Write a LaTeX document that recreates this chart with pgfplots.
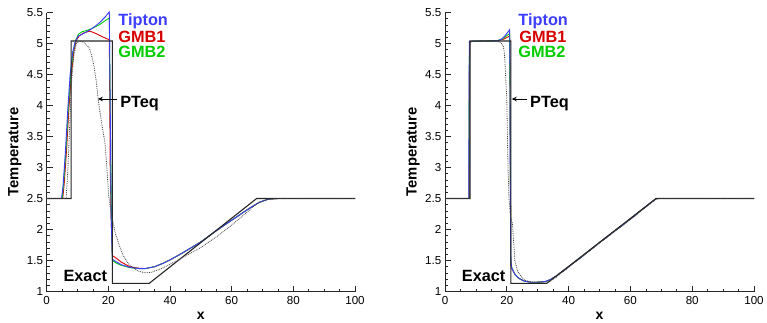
\documentclass[border=0pt]{standalone}
\usepackage{fontspec}
\setmainfont{Liberation Sans}
\usepackage{pgfplots}
\pgfplotsset{compat=1.18}
\usetikzlibrary{arrows.meta}
\definecolor{tipblue}{RGB}{60,60,255}
\definecolor{gmbred}{RGB}{215,0,0}
\definecolor{gmbgreen}{RGB}{0,205,0}
\pgfplotsset{
  myaxis/.style={
    scale only axis, height=279pt,
    xmin=0, xmax=100, ymin=1, ymax=5.5,
    axis lines=left, axis line style={-, black!85, line width=0.8pt},
    tick align=inside,
    xtick={0,20,...,100}, minor x tick num=3,
    ytick={1,1.5,...,5.5}, minor y tick num=4,
    major tick length=6pt, minor tick length=3pt,
    every tick/.style={black!85, line width=0.7pt},
    /pgf/number format/assume math mode=true,
    tick label style={font=\fontsize{11.6}{13}\selectfont},
    xticklabel style={inner sep=0pt, anchor=north, yshift=-4.5pt},
    yticklabel style={inner sep=0pt, anchor=east, xshift=-3.5pt},
    xlabel={\bfseries x},
    ylabel={\bfseries Temperature},
    xlabel style={font=\fontsize{14}{16}\selectfont, inner sep=0pt, at={([yshift=-28pt]axis description cs:0.5,0)}, anchor=base},
    ylabel style={font=\fontsize{14.8}{16}\selectfont, inner sep=0pt, at={([xshift=-28.4pt]axis description cs:0,0.5)}, anchor=base, rotate=0},
    clip=false,
  },
  ex/.style={black!85, line width=1.1pt, no marks},
  pt/.style={black!75, line width=0.8pt, densely dotted, no marks},
  cb/.style={tipblue, line width=0.9pt, no marks},
  cr/.style={gmbred, line width=0.9pt, no marks},
  cg/.style={gmbgreen, line width=0.9pt, no marks},
}
\newcommand{\lab}{\fontsize{16.3}{17}\selectfont\bfseries}
\begin{document}
\begin{tikzpicture}
\useasboundingbox (0pt,0pt) rectangle (767pt,322pt);
% ---------------- left ----------------
\begin{axis}[myaxis, at={(46.7pt,30.5pt)}, anchor=south west, width=308.3pt]
\addplot[cr] coordinates {(0,2.5)(5.2,2.5)(5.7,2.75)(6.4,3.25)(7.2,3.95)(8.0,4.5)(8.8,4.88)(9.6,5.05)(10.5,5.12)(12,5.17)(14,5.2)(16,5.16)(18,5.11)(20.3,5.06)(20.4,4.5)(20.6,3.0)(20.9,2.2)(21.3,1.58)(22.5,1.54)(24.3,1.47)(27,1.40)(30,1.375)(32,1.37)(35,1.40)(37.5,1.45)(40,1.51)(44,1.62)(50,1.80)(55,1.98)(60,2.15)(63,2.25)(66,2.35)(69,2.44)(72,2.49)(75,2.5)(100,2.5)};
\addplot[cg] coordinates {(0,2.5)(5.0,2.5)(5.5,2.75)(6.2,3.25)(7.0,3.95)(7.8,4.5)(8.6,4.88)(9.4,5.05)(10.3,5.15)(11.5,5.19)(13,5.21)(15,5.25)(17,5.3)(19,5.37)(20.3,5.41)(20.5,4.5)(20.8,3.0)(21.0,2.2)(21.3,1.50)(22.5,1.46)(24.3,1.42)(27,1.385)(30,1.37)(32,1.37)(35,1.40)(37.5,1.45)(40,1.51)(44,1.62)(50,1.80)(55,1.98)(60,2.15)(63,2.25)(66,2.35)(69,2.44)(72,2.49)(75,2.5)(100,2.5)};
\addplot[cb] coordinates {(0,2.5)(4.8,2.5)(5.3,2.7)(6.0,3.2)(6.8,3.9)(7.6,4.5)(8.4,4.85)(9.2,5.02)(10.2,5.12)(11.5,5.15)(13,5.19)(15,5.25)(17,5.33)(19,5.43)(20.3,5.51)(20.4,5.0)(20.7,3.5)(20.9,2.2)(21.3,1.52)(22.5,1.48)(24.3,1.43)(27,1.39)(30,1.37)(32,1.37)(35,1.40)(37.5,1.45)(40,1.51)(44,1.62)(50,1.80)(55,1.98)(60,2.15)(63,2.25)(66,2.35)(69,2.44)(72,2.49)(75,2.5)(100,2.5)};
\addplot[ex] coordinates {(0,2.5)(7.9,2.5)(7.9,5.04)(21.3,5.04)(21.3,1.13)(33.2,1.13)(68.1,2.5)(100,2.5)};
\addplot[pt] coordinates {(0,2.5)(6.3,2.5)(6.8,2.9)(7.4,3.6)(8.1,4.4)(8.8,4.8)(9.6,5.0)(10.5,5.04)(11.5,5.03)(12.5,5.0)(13.8,4.93)(14.6,4.8)(15.4,4.62)(16.1,4.38)(16.7,4.1)(17.4,3.85)(18.2,3.6)(18.9,3.4)(19.5,3.0)(20.1,2.55)(20.8,2.3)(21.6,2.1)(22.3,1.93)(23.5,1.75)(24.8,1.58)(26.5,1.45)(28,1.38)(29.7,1.33)(31.9,1.30)(34,1.31)(37.3,1.37)(40,1.44)(43.8,1.54)(50,1.71)(55,1.88)(60,2.07)(65,2.28)(68,2.41)(71,2.48)(74,2.5)(100,2.5)};
\node[anchor=base west, text=tipblue, font=\lab, inner sep=0pt] at (axis cs:23.2,5.29) {Tipton};
\node[anchor=base west, text=gmbred, font=\lab, inner sep=0pt] at (axis cs:23.2,5.01) {GMB1};
\node[anchor=base west, text=gmbgreen, font=\lab, inner sep=0pt] at (axis cs:23.2,4.775) {GMB2};
\node[anchor=base west, font=\lab, inner sep=0pt] at (axis cs:23.8,3.97) {PTeq};
\node[anchor=base west, font=\lab, inner sep=0pt] at (axis cs:5.4,1.158) {Exact};
\draw[-{Stealth[length=5pt,width=4.5pt]}, line width=0.8pt] (axis cs:22.8,4.105) -- (axis cs:16.6,4.105);
\end{axis}
% ---------------- right ----------------
\begin{axis}[myaxis, at={(445pt,30.5pt)}, anchor=south west, width=309pt]
\addplot[cr] coordinates {(0,2.5)(7.8,2.5)(7.9,4.5)(8.0,5.03)(12,5.04)(17,5.045)(19,5.07)(20.9,5.12)(21.0,4.5)(21.2,2.5)(21.3,1.42)(21.7,1.36)(22.7,1.27)(24,1.21)(25.5,1.17)(27.5,1.15)(30,1.15)(32.4,1.16)(34,1.19)(36,1.25)(40,1.40)(45,1.59)(50,1.79)(55,1.98)(60,2.17)(64,2.33)(67,2.45)(68.5,2.5)(100,2.5)};
\addplot[cg] coordinates {(0,2.5)(7.75,2.5)(7.85,4.5)(7.95,5.03)(12,5.04)(17,5.045)(18.5,5.07)(20.9,5.16)(21.0,4.5)(21.2,2.5)(21.3,1.45)(21.7,1.37)(22.7,1.27)(24,1.21)(25.5,1.17)(27.5,1.15)(30,1.15)(32.4,1.16)(34,1.19)(36,1.25)(40,1.40)(45,1.59)(50,1.79)(55,1.98)(60,2.17)(64,2.33)(67,2.45)(68.5,2.5)(100,2.5)};
\addplot[cb] coordinates {(0,2.5)(7.7,2.5)(7.8,4.5)(7.9,5.03)(9,5.04)(12,5.04)(15,5.04)(17,5.045)(18.3,5.07)(19.5,5.13)(20.9,5.22)(21.0,5.0)(21.1,3.0)(21.3,1.5)(21.6,1.38)(22.7,1.27)(24,1.21)(25.5,1.17)(27.5,1.15)(30,1.15)(32.4,1.16)(34,1.19)(36,1.25)(40,1.40)(45,1.59)(50,1.79)(55,1.98)(60,2.17)(64,2.33)(67,2.45)(68.5,2.5)(100,2.5)};
\addplot[ex] coordinates {(0,2.5)(8.1,2.5)(8.1,5.04)(21.3,5.04)(21.3,1.13)(32.9,1.13)(68.3,2.5)(100,2.5)};
\addplot[pt] coordinates {(0,2.5)(7.9,2.5)(8.0,5.0)(8.5,5.03)(12,5.04)(16,5.04)(17.3,5.03)(18.3,5.0)(18.9,4.95)(19.2,4.85)(19.4,4.7)(19.7,4.4)(20.0,4.1)(20.2,3.5)(20.4,3.0)(20.7,2.5)(21.2,2.2)(21.8,2.1)(22.3,1.75)(22.6,1.5)(23.5,1.33)(24.8,1.23)(26,1.18)(28,1.155)(32,1.15)(34,1.17)(36,1.23)(40,1.39)(50,1.78)(60,2.16)(66,2.4)(68.5,2.49)(70,2.5)(100,2.5)};
\node[anchor=base west, text=tipblue, font=\lab, inner sep=0pt] at (axis cs:23.7,5.29) {Tipton};
\node[anchor=base west, text=gmbred, font=\lab, inner sep=0pt] at (axis cs:24.0,5.01) {GMB1};
\node[anchor=base west, text=gmbgreen, font=\lab, inner sep=0pt] at (axis cs:23.7,4.775) {GMB2};
\node[anchor=base west, font=\lab, inner sep=0pt] at (axis cs:27.5,3.97) {PTeq};
\node[anchor=base west, font=\lab, inner sep=0pt] at (axis cs:5.4,1.158) {Exact};
\draw[-{Stealth[length=5pt,width=4.5pt]}, line width=0.8pt] (axis cs:26.4,4.105) -- (axis cs:21.6,4.105);
\end{axis}
\end{tikzpicture}
\end{document}
